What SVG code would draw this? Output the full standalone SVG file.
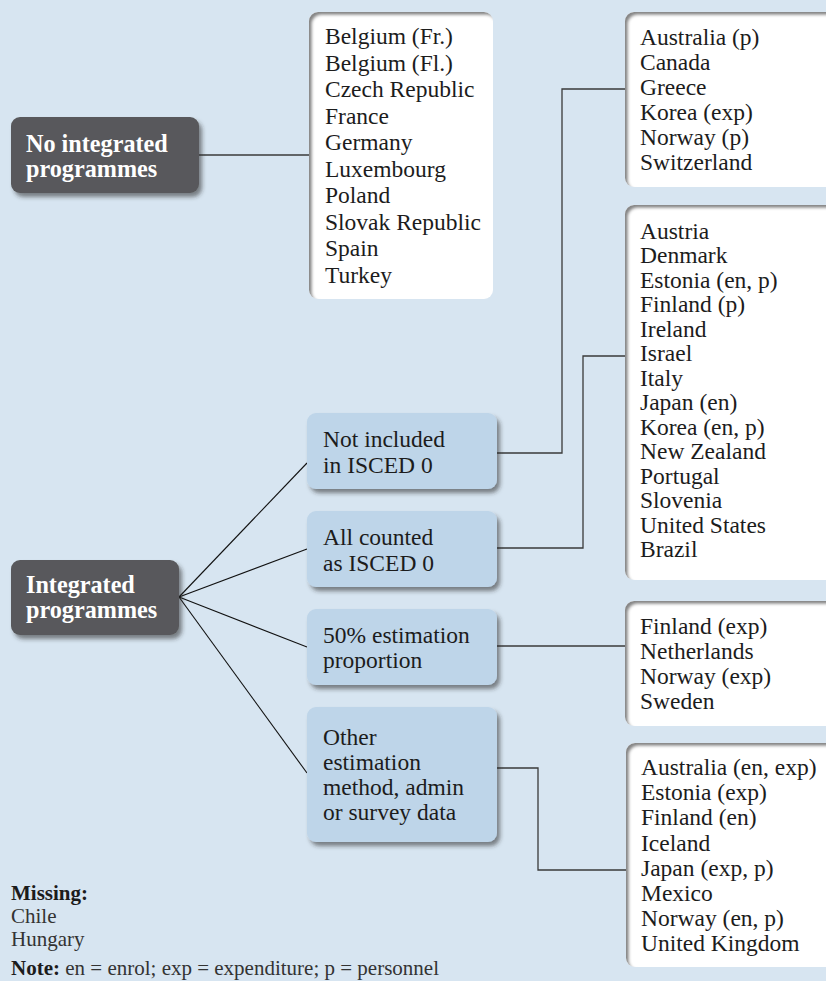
<svg xmlns="http://www.w3.org/2000/svg" width="826" height="981" viewBox="0 0 826 981">
<defs>
<filter id="drop" x="-10%" y="-10%" width="130%" height="140%">
<feGaussianBlur in="SourceAlpha" stdDeviation="2.2"/>
<feOffset dx="3" dy="4" result="b"/>
<feFlood flood-color="#2a2a2a" flood-opacity="0.55"/>
<feComposite in2="b" operator="in"/>
<feMerge><feMergeNode/><feMergeNode in="SourceGraphic"/></feMerge>
</filter>
<filter id="inner" x="-5%" y="-5%" width="110%" height="110%">
<feFlood flood-color="#5a5a5a" flood-opacity="0.85"/>
<feComposite in2="SourceAlpha" operator="out"/>
<feGaussianBlur stdDeviation="1.8"/>
<feOffset dx="3" dy="3"/>
<feComposite in2="SourceAlpha" operator="in" result="s"/>
<feMerge><feMergeNode in="SourceGraphic"/><feMergeNode in="s"/></feMerge>
</filter>
</defs>
<style>
.bg{fill:#d7e5f1}
.dark{fill:#59595b;filter:url(#drop)}
.blue{fill:#bed5e9;filter:url(#drop)}
.list{fill:#ffffff;filter:url(#inner)}
text{font-family:"Liberation Serif","Times New Roman",serif;fill:#1c1c1c}
.t{font-size:23.5px}
.h{font-size:24.2px;font-weight:bold;fill:#ffffff}
.f{font-size:21px;fill:#333333}
.fb{font-size:21px;font-weight:bold;fill:#1c1c1c}
.conn{fill:none;stroke:#3a3a3a;stroke-width:1.3}
.fan{fill:none;stroke:#111111;stroke-width:1.1}
</style>
<rect class="bg" x="0" y="0" width="826" height="981"/>

<g id="connectors">
<line class="conn" x1="199" y1="155" x2="309" y2="155"/>
<line class="fan" x1="179" y1="597" x2="307" y2="463"/>
<line class="fan" x1="179" y1="597" x2="307" y2="549"/>
<line class="fan" x1="179" y1="597" x2="307" y2="647"/>
<line class="fan" x1="179" y1="597" x2="307" y2="773"/>
<polyline class="conn" points="497,453 562,453 562,89 625,89"/>
<polyline class="conn" points="497,548 583,548 583,356 625,356"/>
<polyline class="conn" points="497,646 625,646"/>
<polyline class="conn" points="497,768 538,768 538,870 626,870"/>
</g>

<g id="no-integrated">
<rect class="dark" x="11" y="117" width="188" height="76" rx="9"/>
<text class="h" x="26" y="152">No integrated</text>
<text class="h" x="26" y="177">programmes</text>
</g>

<g id="integrated">
<rect class="dark" x="11" y="560" width="168" height="75" rx="9"/>
<text class="h" x="26" y="593">Integrated</text>
<text class="h" x="26" y="618">programmes</text>
</g>

<g id="list-no-integrated">
<rect class="list" x="309" y="12" width="184" height="287" rx="9"/>
<text class="t" x="325" y="44">Belgium (Fr.)</text>
<text class="t" x="325" y="70.5">Belgium (Fl.)</text>
<text class="t" x="325" y="97">Czech Republic</text>
<text class="t" x="325" y="123.5">France</text>
<text class="t" x="325" y="150">Germany</text>
<text class="t" x="325" y="176.5">Luxembourg</text>
<text class="t" x="325" y="203">Poland</text>
<text class="t" x="325" y="229.5">Slovak Republic</text>
<text class="t" x="325" y="256">Spain</text>
<text class="t" x="325" y="282.5">Turkey</text>
</g>

<g id="not-included">
<rect class="blue" x="307" y="413" width="190" height="76" rx="9"/>
<text class="t" x="323" y="447">Not included</text>
<text class="t" x="323" y="472.5">in ISCED 0</text>
</g>

<g id="all-counted">
<rect class="blue" x="307" y="511" width="190" height="76" rx="9"/>
<text class="t" x="323" y="545">All counted</text>
<text class="t" x="323" y="570.5">as ISCED 0</text>
</g>

<g id="fifty-percent">
<rect class="blue" x="307" y="609" width="190" height="76" rx="9"/>
<text class="t" x="323" y="643">50% estimation</text>
<text class="t" x="323" y="668">proportion</text>
</g>

<g id="other-method">
<rect class="blue" x="307" y="707" width="190" height="135" rx="9"/>
<text class="t" x="323" y="745">Other</text>
<text class="t" x="323" y="770">estimation</text>
<text class="t" x="323" y="795">method, admin</text>
<text class="t" x="323" y="820">or survey data</text>
</g>

<g id="list-not-included">
<rect class="list" x="625" y="12" width="225" height="175" rx="9"/>
<text class="t" x="640" y="45">Australia (p)</text>
<text class="t" x="640" y="70">Canada</text>
<text class="t" x="640" y="95">Greece</text>
<text class="t" x="640" y="120">Korea (exp)</text>
<text class="t" x="640" y="145">Norway (p)</text>
<text class="t" x="640" y="170">Switzerland</text>
</g>

<g id="list-all-counted">
<rect class="list" x="625" y="205" width="225" height="375" rx="9"/>
<text class="t" x="640" y="238.5">Austria</text>
<text class="t" x="640" y="263">Denmark</text>
<text class="t" x="640" y="287.5">Estonia (en, p)</text>
<text class="t" x="640" y="312">Finland (p)</text>
<text class="t" x="640" y="336.5">Ireland</text>
<text class="t" x="640" y="361">Israel</text>
<text class="t" x="640" y="385.5">Italy</text>
<text class="t" x="640" y="410">Japan (en)</text>
<text class="t" x="640" y="434.5">Korea (en, p)</text>
<text class="t" x="640" y="459">New Zealand</text>
<text class="t" x="640" y="483.5">Portugal</text>
<text class="t" x="640" y="508">Slovenia</text>
<text class="t" x="640" y="532.5">United States</text>
<text class="t" x="640" y="557">Brazil</text>
</g>

<g id="list-fifty-percent">
<rect class="list" x="625" y="601" width="225" height="125" rx="9"/>
<text class="t" x="640" y="634">Finland (exp)</text>
<text class="t" x="640" y="659">Netherlands</text>
<text class="t" x="640" y="684">Norway (exp)</text>
<text class="t" x="640" y="709">Sweden</text>
</g>

<g id="list-other-method">
<rect class="list" x="626" y="743" width="225" height="224" rx="9"/>
<text class="t" x="641" y="775">Australia (en, exp)</text>
<text class="t" x="641" y="800.2">Estonia (exp)</text>
<text class="t" x="641" y="825.4">Finland (en)</text>
<text class="t" x="641" y="850.6">Iceland</text>
<text class="t" x="641" y="875.8">Japan (exp, p)</text>
<text class="t" x="641" y="901">Mexico</text>
<text class="t" x="641" y="926.2">Norway (en, p)</text>
<text class="t" x="641" y="951.4">United Kingdom</text>
</g>

<g id="footer">
<text class="fb" x="11" y="900">Missing:</text>
<text class="f" x="11" y="923">Chile</text>
<text class="f" x="11" y="946">Hungary</text>
<text class="f" x="11" y="975"><tspan class="fb">Note:</tspan> en = enrol; exp = expenditure; p = personnel</text>
</g>
</svg>
